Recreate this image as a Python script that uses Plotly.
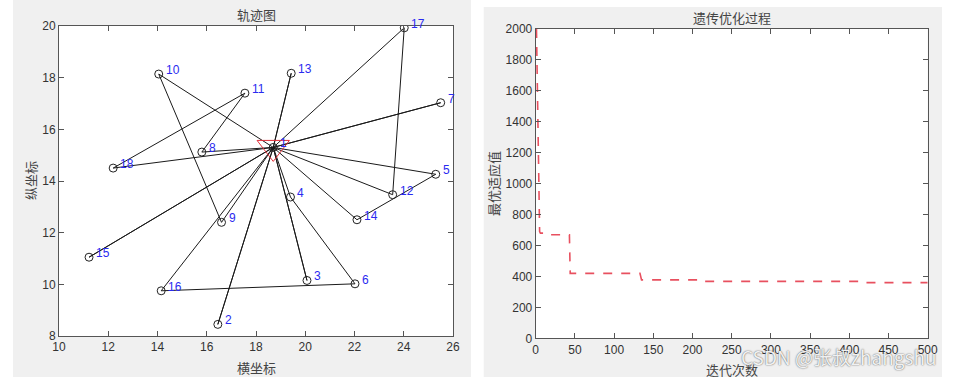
import plotly.graph_objects as go

# ---------------- data ----------------
node_ids = list(range(1, 19))
node_x = [18.7, 16.45, 20.07, 19.4, 25.3, 22.02, 25.5, 15.8, 16.6, 14.05,
          17.55, 23.55, 19.43, 22.1, 11.22, 14.15, 24.02, 12.2]
node_y = [15.3, 8.45, 10.15, 13.38, 14.26, 10.02, 17.03, 15.12, 12.4, 18.14,
          17.4, 13.47, 18.17, 12.5, 11.05, 9.75, 19.93, 14.5]
routes = [[1, 10, 9, 1], [1, 16, 6, 4, 1], [1, 3, 1], [1, 2, 1], [1, 13, 1],
          [1, 17, 12, 1], [1, 7, 1], [1, 5, 14, 1], [1, 8, 11, 18, 1], [1, 15, 1]]

iter_x = [1, 5, 6, 14, 15, 43, 44, 133, 135, 215, 216, 420, 421, 500]
fitness = [2000, 690, 680, 680, 670, 670, 420, 420, 378, 378, 368, 368, 360, 360]

x_ticks_left = [10, 12, 14, 16, 18, 20, 22, 24, 26]
y_ticks_left = [8, 10, 12, 14, 16, 18, 20]
x_ticks_right = [0, 50, 100, 150, 200, 250, 300, 350, 400, 450, 500]
y_ticks_right = [0, 200, 400, 600, 800, 1000, 1200, 1400, 1600, 1800, 2000]

W, H = 954, 382

def px_x(p):
    return p / W

def px_y(p):
    return 1 - p / H

fig = go.Figure()

# route lines
lx, ly = [], []
for r in routes:
    for n in r:
        lx.append(node_x[n - 1])
        ly.append(node_y[n - 1])
    lx.append(None)
    ly.append(None)
fig.add_trace(go.Scatter(x=lx, y=ly, mode="lines", line=dict(color="#1a1a1a", width=1),
                         xaxis="x", yaxis="y", hoverinfo="skip", showlegend=False))
# nodes
fig.add_trace(go.Scatter(x=node_x, y=node_y, mode="markers",
                         marker=dict(symbol="circle-open", size=8, color="#222", line=dict(width=1)),
                         xaxis="x", yaxis="y", showlegend=False))
# depot
fig.add_trace(go.Scatter(x=[node_x[0]], y=[node_y[0]], mode="markers",
                         marker=dict(symbol="triangle-down-open", size=28, color="#e0303a",
                                     line=dict(width=1)),
                         xaxis="x", yaxis="y", showlegend=False))

# fitness curve
fig.add_trace(go.Scatter(x=iter_x, y=fitness, mode="lines",
                         line=dict(color="rgb(232,80,95)", width=1.6, dash="dash"),
                         xaxis="x2", yaxis="y2", showlegend=False, cliponaxis=True))

tick_font = dict(family="Liberation Sans, Arial, sans-serif", size=12, color="#333")
ax_common = dict(showline=True, linecolor="#555", linewidth=1, mirror="ticks",
                 ticks="inside", ticklen=5, tickcolor="#555", showgrid=False,
                 zeroline=False, tickfont=tick_font, fixedrange=True, automargin=False)

fig.update_layout(
    width=W, height=H, autosize=False,
    margin=dict(l=0, r=0, t=0, b=0, pad=0),
    paper_bgcolor="white", plot_bgcolor="white",
    xaxis=dict(domain=[px_x(59), px_x(453)], range=[10, 26], tickvals=x_ticks_left,
               anchor="y", **ax_common),
    yaxis=dict(domain=[px_y(336), px_y(26)], range=[8, 20], tickvals=y_ticks_left,
               anchor="x", **ax_common),
    xaxis2=dict(domain=[px_x(535.7), px_x(927.7)], range=[0, 500], tickvals=x_ticks_right,
                anchor="y2", **ax_common),
    yaxis2=dict(domain=[px_y(338.3), px_y(29)], range=[0, 2000], tickvals=y_ticks_right,
                anchor="x2", **ax_common),
)

shapes = [
    dict(type="rect", xref="paper", yref="paper", x0=px_x(13), x1=px_x(471),
         y0=px_y(377), y1=1, fillcolor="#f0f0f0", line=dict(width=0), layer="below"),
    dict(type="rect", xref="paper", yref="paper", x0=px_x(483.7), x1=px_x(942),
         y0=px_y(377), y1=px_y(7), fillcolor="#f0f0f0", line=dict(width=0), layer="below"),
    dict(type="rect", xref="x domain", yref="y domain", x0=0, x1=1, y0=0, y1=1,
         fillcolor="white", line=dict(width=0), layer="below"),
    dict(type="rect", xref="x2 domain", yref="y2 domain", x0=0, x1=1, y0=0, y1=1,
         fillcolor="white", line=dict(width=0), layer="below"),
]
fig.update_layout(shapes=shapes)

cjk = "Noto Sans CJK SC, sans-serif"
title_font = dict(family=cjk, size=13, color="#444")
common_a = dict(xref="paper", yref="paper", showarrow=False, font=title_font,
                xanchor="center", yanchor="middle")
annots = [
    dict(text="轨迹图", x=px_x(256.5), y=px_y(15), **common_a),
    dict(text="横坐标", x=px_x(256.5), y=px_y(367), **common_a),
    dict(text="纵坐标", x=px_x(30), y=px_y(181), textangle=-90, **common_a),
    dict(text="遗传优化过程", x=px_x(732), y=px_y(18), **common_a),
    dict(text="迭代次数", x=px_x(732), y=px_y(369), **common_a),
    dict(text="最优适应值", x=px_x(493), y=px_y(183), textangle=-90, **common_a),
]
for i, (nx, ny) in enumerate(zip(node_x, node_y)):
    annots.append(dict(text=str(node_ids[i]), x=nx, y=ny, xref="x", yref="y",
                       xanchor="left", yanchor="middle", xshift=5, yshift=4,
                       showarrow=False,
                       font=dict(family="Liberation Sans, Arial, sans-serif", size=12,
                                 color="#2a2af0")))
annots.append(dict(text="CSDN @张叔zhangshu", x=px_x(939), y=px_y(356), xref="paper",
                   yref="paper", xanchor="right", yanchor="middle", showarrow=False,
                   font=dict(family=cjk, size=19, color="rgba(250,250,250,0.95)",
                             shadow="0px 0px 1.5px #333")))
fig.update_layout(annotations=annots)

fig.write_html("out.html", post_script="document.body.style.margin='0';",
               config={"displayModeBar": False})
